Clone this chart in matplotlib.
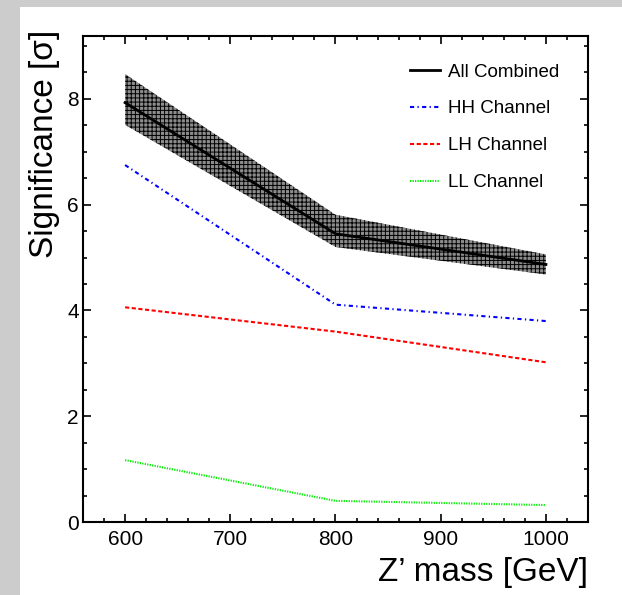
import matplotlib
matplotlib.use("Agg")
import matplotlib.pyplot as plt
from matplotlib.patches import Rectangle
from matplotlib.ticker import MultipleLocator

plt.rcParams['font.family'] = ['Liberation Sans', 'DejaVu Sans']
plt.rcParams['hatch.linewidth'] = 0.7

# values
mass = [600, 800, 1000]
combined = [7.93, 5.45, 4.87]
combined_lo = [7.51, 5.20, 4.68]
combined_hi = [8.47, 5.81, 5.06]
hh = [6.75, 4.11, 3.80]
lh = [4.06, 3.60, 3.02]
ll = [1.17, 0.40, 0.32]

labels = ["All Combined", "HH Channel", "LH Channel", "LL Channel"]

fig = plt.figure(figsize=(6.22, 5.95), dpi=100)
fig.patch.set_facecolor('#cccccc')
# white pad, like the original canvas (kept behind the axes)
fig.patches.append(Rectangle((20 / 622, 0), 1, 1 - 7 / 595, transform=fig.transFigure,
                             facecolor='white', edgecolor='none', zorder=-10))

ax = fig.add_axes([83 / 622, 73 / 595, 505 / 622, 486 / 595])
ax.set_zorder(1)
ax.set_facecolor('white')

# error band on the combined curve
ax.fill_between(mass, combined_lo, combined_hi, facecolor='#8c8c8c',
                edgecolor='black', hatch='++++', linewidth=0, zorder=1)
ax.plot(mass, combined, color='black', lw=2.0, label=labels[0], zorder=3)
ax.plot(mass, hh, color='#0000ff', lw=1.5, dashes=[2, 1.6, 0.6, 1.6], label=labels[1])
ax.plot(mass, lh, color='#ff0000', lw=1.5, dashes=[2, 1.2], label=labels[2])
ax.plot(mass, ll, color='#00ee00', lw=1.5, dashes=[0.6, 0.6], label=labels[3])

ax.set_xlim(560, 1040)
ax.set_ylim(0, 9.19)
ax.xaxis.set_major_locator(MultipleLocator(100))
ax.xaxis.set_minor_locator(MultipleLocator(20))
ax.yaxis.set_major_locator(MultipleLocator(2))
ax.yaxis.set_minor_locator(MultipleLocator(0.5))
ax.tick_params(which='both', direction='in', top=True, right=True, width=1.2)
ax.tick_params(which='major', length=6, labelsize=15)
ax.tick_params(which='minor', length=3)
ax.tick_params(axis='x', pad=6)
ax.tick_params(axis='y', pad=3)
for s in ax.spines.values():
    s.set_linewidth(1.5)

fig.text(588 / 622, 1 - 572 / 595, "Z\u2019 mass [GeV]", ha='right', va='center', fontsize=24)
fig.text(45 / 622, 1 - 30 / 595, "Significance [\u03c3]", rotation=90, ha='center', va='top',
         fontsize=24)

ax.legend(loc='upper left', bbox_to_anchor=(319 / 505, 1 - 20 / 486), frameon=False,
          fontsize=13.5, handlelength=1.65, handletextpad=0.4, labelspacing=1.05,
          borderaxespad=0)

fig.savefig("out.png", dpi=100, facecolor=fig.get_facecolor())
